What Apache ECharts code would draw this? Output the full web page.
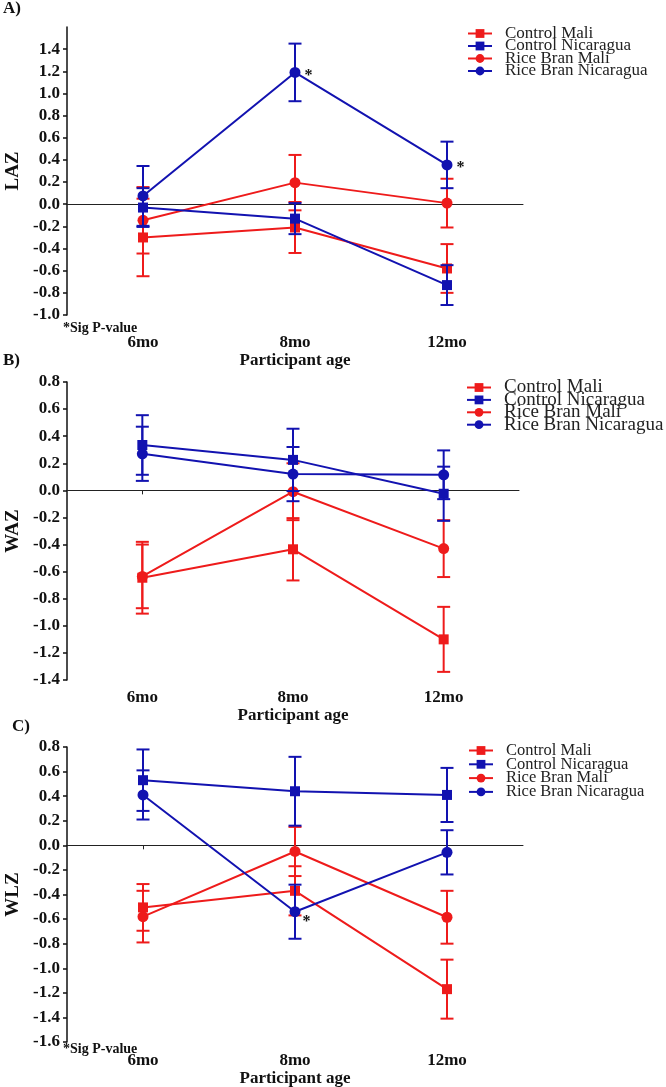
<!DOCTYPE html>
<html>
<head>
<meta charset="utf-8">
<script src="https://cdn.jsdelivr.net/npm/echarts@6/dist/echarts.min.js"></script>
<style>html,body{margin:0;padding:0;background:#fff}#c{width:666px;height:1087px}</style>
</head>
<body>
<div id="c"></div>
<script>
// ---------- data ----------
const categories = ['6mo', '8mo', '12mo'];
const seriesNames = ['Control Mali', 'Control Nicaragua', 'Rice Bran Mali', 'Rice Bran Nicaragua'];

// Panel A: LAZ
const lazControlMali = [-0.30, -0.21, -0.58];
const lazControlMaliErr = [0.35, 0.23, 0.22];
const lazControlNic = [-0.03, -0.13, -0.73];
const lazControlNicErr = [0.175, 0.14, 0.18];
const lazRiceMali = [-0.145, 0.195, 0.01];
const lazRiceMaliErr = [0.30, 0.25, 0.22];
const lazRiceNic = [0.075, 1.19, 0.355];
const lazRiceNicErr = [0.27, 0.26, 0.21];
const lazRiceNicSig = ['', '*', '*'];
const lazTicks = [-1.0, -0.8, -0.6, -0.4, -0.2, 0.0, 0.2, 0.4, 0.6, 0.8, 1.0, 1.2, 1.4];

// Panel B: WAZ
const wazControlMali = [-0.645, -0.435, -1.10];
const wazControlMaliErr = [0.265, 0.23, 0.24];
const wazControlNic = [0.335, 0.225, -0.025];
const wazControlNicErr = [0.22, 0.23, 0.20];
const wazRiceMali = [-0.635, -0.01, -0.43];
const wazRiceMaliErr = [0.235, 0.21, 0.21];
const wazRiceNic = [0.27, 0.12, 0.115];
const wazRiceNicErr = [0.20, 0.20, 0.18];
const wazTicks = [-1.4, -1.2, -1.0, -0.8, -0.6, -0.4, -0.2, 0.0, 0.2, 0.4, 0.6, 0.8];

// Panel C: WLZ
const wlzControlMali = [-0.505, -0.37, -1.17];
const wlzControlMaliErr = [0.19, 0.20, 0.24];
const wlzControlNic = [0.53, 0.44, 0.41];
const wlzControlNicErr = [0.25, 0.28, 0.22];
const wlzRiceMali = [-0.58, -0.05, -0.585];
const wlzRiceMaliErr = [0.21, 0.20, 0.215];
const wlzRiceNic = [0.41, -0.54, -0.057];
const wlzRiceNicErr = [0.20, 0.22, 0.18];
const wlzRiceNicSig = ['', '*', ''];
const wlzTicks = [-1.6, -1.4, -1.2, -1.0, -0.8, -0.6, -0.4, -0.2, 0.0, 0.2, 0.4, 0.6, 0.8];

// ---------- styling ----------
const RED = '#ee1b1b';
const BLUE = '#1212b0';
const FONT = 'Liberation Serif';
const TXT = '#111';

const panels = [
  { name: 'LAZ', min: -1.0, max: 1.6, ticks: lazTicks,
    grid: { left: 67, right: 143, top: 27, height: 288 },
    labelMargin: 19, nameGap: 33,
    legend: { left: 467, top: 25, fontSize: 17, gap: -4.5 },
    means: [lazControlMali, lazControlNic, lazRiceMali, lazRiceNic],
    errs: [lazControlMaliErr, lazControlNicErr, lazRiceMaliErr, lazRiceNicErr],
    sig: lazRiceNicSig, sigOffset: [-1, 3] },
  { name: 'WAZ', min: -1.4, max: 0.8, ticks: wazTicks,
    grid: { left: 67, right: 147, top: 382, height: 298 },
    labelMargin: 9, nameGap: 21,
    legend: { left: 466, top: 378, fontSize: 19, gap: -6.6 },
    means: [wazControlMali, wazControlNic, wazRiceMali, wazRiceNic],
    errs: [wazControlMaliErr, wazControlNicErr, wazRiceMaliErr, wazRiceNicErr],
    sig: null },
  { name: 'WLZ', min: -1.6, max: 0.8, ticks: wlzTicks,
    grid: { left: 67, right: 143, top: 747, height: 295 },
    labelMargin: 10, nameGap: 23,
    legend: { left: 468, top: 742, fontSize: 16.5, gap: -3.2 },
    means: [wlzControlMali, wlzControlNic, wlzRiceMali, wlzRiceNic],
    errs: [wlzControlMaliErr, wlzControlNicErr, wlzRiceMaliErr, wlzRiceNicErr],
    sig: wlzRiceNicSig, sigOffset: [-3, 10] }
];

const colors = [RED, BLUE, RED, BLUE];
const symbols = ['rect', 'rect', 'circle', 'circle'];
const zs = [2, 3, 2, 3];

function errRender(color) {
  return function (params, api) {
    const x = api.value(0);
    const lo = api.coord([x, api.value(1)]);
    const hi = api.coord([x, api.value(2)]);
    const w = 6.5;
    const st = { stroke: color, lineWidth: 2 };
    return {
      type: 'group',
      children: [
        { type: 'line', shape: { x1: lo[0], y1: lo[1], x2: hi[0], y2: hi[1] }, style: st },
        { type: 'line', shape: { x1: lo[0] - w, y1: lo[1], x2: lo[0] + w, y2: lo[1] }, style: st },
        { type: 'line', shape: { x1: hi[0] - w, y1: hi[1], x2: hi[0] + w, y2: hi[1] }, style: st }
      ]
    };
  };
}

const grid = [], xAxis = [], yAxis = [], series = [], legend = [];
panels.forEach((p, pi) => {
  grid.push(Object.assign({ containLabel: false, outerBoundsMode: 'none' }, p.grid));
  // zero line axis
  xAxis.push({
    type: 'category', data: categories, gridIndex: pi, position: 'bottom',
    axisLine: { onZero: true, lineStyle: { color: '#222', width: 1 } },
    axisTick: { show: true, alignWithLabel: true, length: 4, lineStyle: { color: '#222' } },
    axisLabel: { show: false }, splitLine: { show: false }
  });
  // bottom labels axis
  xAxis.push({
    type: 'category', data: categories, gridIndex: pi, position: 'bottom',
    axisLine: { show: false, onZero: false }, axisTick: { show: false },
    axisLabel: { margin: p.labelMargin, fontFamily: FONT, fontWeight: 'bold', fontSize: 17, color: TXT },
    name: 'Participant age', nameLocation: 'middle', nameGap: p.nameGap,
    nameTextStyle: { fontFamily: FONT, fontWeight: 'bold', fontSize: 17, color: TXT },
    splitLine: { show: false }
  });
  yAxis.push({
    type: 'value', gridIndex: pi, min: p.min, max: p.max, interval: 0.2,
    name: p.name, nameLocation: 'middle', nameRotate: 90, nameGap: 44,
    nameTextStyle: { fontFamily: FONT, fontWeight: 'bold', fontSize: 19, color: TXT },
    axisLine: { show: true, lineStyle: { color: '#111', width: 1.5 } },
    axisTick: { show: true, length: 4, customValues: p.ticks, lineStyle: { color: '#111', width: 1.5 } },
    axisLabel: { customValues: p.ticks, margin: 7, fontFamily: FONT, fontWeight: 'bold', fontSize: 17, color: TXT,
      formatter: v => v.toFixed(1) },
    splitLine: { show: false }
  });
  for (let s = 0; s < 4; s++) {
    const errData = p.means[s].map((m, i) => [i, m - p.errs[s][i], m + p.errs[s][i]]);
    series.push({
      type: 'custom', name: 'err' + pi + '_' + s, xAxisIndex: pi * 2, yAxisIndex: pi,
      renderItem: errRender(colors[s]), data: errData, z: zs[s], silent: true,
      encode: { x: 0, y: [1, 2] }
    });
  }
  for (let s = 0; s < 4; s++) {
    const ser = {
      type: 'line', name: seriesNames[s], xAxisIndex: pi * 2, yAxisIndex: pi,
      data: p.means[s], symbol: symbols[s], symbolSize: s < 2 ? 10 : 11,
      itemStyle: { color: colors[s] }, lineStyle: { color: colors[s], width: 2 },
      z: zs[s], animation: false
    };
    if (s === 3 && p.sig) {
      const sig = p.sig;
      ser.label = { show: true, position: 'right', distance: 5, offset: p.sigOffset,
        formatter: q => sig[q.dataIndex], fontFamily: FONT, fontWeight: 'bold', fontSize: 16, color: TXT };
    }
    series.push(ser);
  }
  legend.push({
    data: seriesNames, orient: 'vertical', left: p.legend.left, top: p.legend.top,
    itemWidth: 24, itemHeight: 11, itemGap: p.legend.gap, selectedMode: false, padding: 0,
    textStyle: { fontFamily: FONT, fontSize: p.legend.fontSize, color: '#222', padding: [0, 0, 0, 8] }
  });
});

const chart = echarts.init(document.getElementById('c'), null, { renderer: 'canvas' });
chart.setOption({
  animation: false,
  backgroundColor: '#fff',
  grid, xAxis, yAxis, series, legend,
  graphic: [
    { type: 'text', left: 3, top: 0, style: { text: 'A)', font: 'bold 17px "Liberation Serif"', fill: TXT } },
    { type: 'text', left: 3, top: 352, style: { text: 'B)', font: 'bold 17px "Liberation Serif"', fill: TXT } },
    { type: 'text', left: 12, top: 718, style: { text: 'C)', font: 'bold 17px "Liberation Serif"', fill: TXT } },
    { type: 'text', left: 63, top: 321, style: { text: '*Sig P-value', font: 'bold 14px "Liberation Serif"', fill: TXT } },
    { type: 'text', left: 63, top: 1042, style: { text: '*Sig P-value', font: 'bold 14px "Liberation Serif"', fill: TXT } }
  ]
});
</script>
</body>
</html>
